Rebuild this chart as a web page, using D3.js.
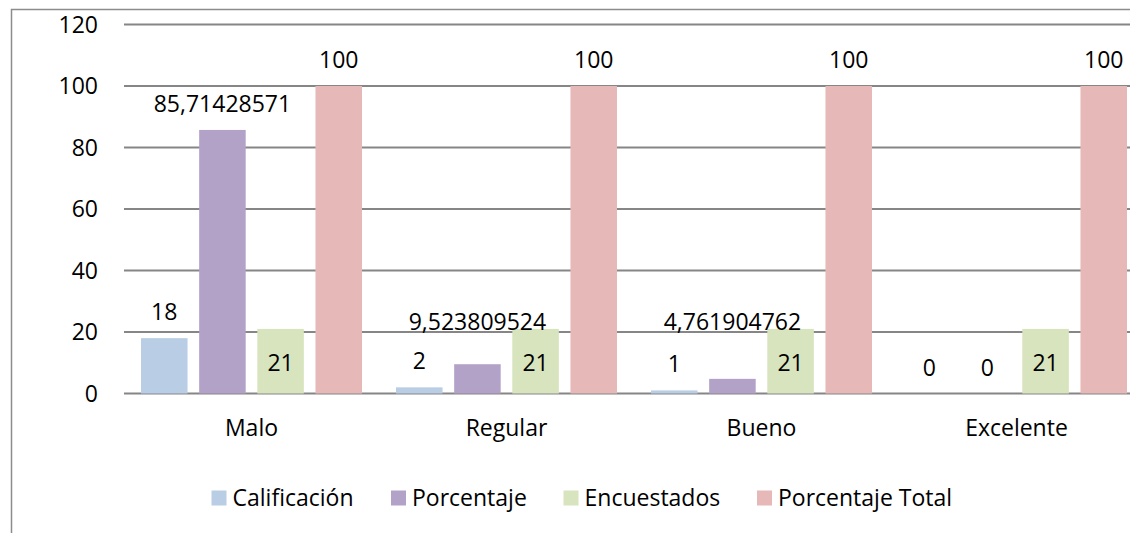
<!DOCTYPE html>
<html>
<head>
<meta charset="utf-8">
<script src="https://cdn.jsdelivr.net/npm/d3@7"></script>
<style>
  body { margin: 0; background: #fff; }
  svg { display: block; font-family: "Open Sans", Lato, sans-serif; }
</style>
</head>
<body>
<svg id="chart"></svg>
<script>
var categories = ["Malo", "Regular", "Bueno", "Excelente"];
var seriesNames = ["Calificación", "Porcentaje", "Encuestados", "Porcentaje Total"];
var calificacion = [18, 2, 1, 0];
var porcentaje = [85.71428571, 9.523809524, 4.761904762, 0];
var encuestados = [21, 21, 21, 21];
var porcentajeTotal = [100, 100, 100, 100];
var yTicks = [0, 20, 40, 60, 80, 100, 120];

var colors = ["#B9CDE5", "#B3A2C7", "#D7E4BD", "#E6B9B8"];
var screen = {width: 1130, height: 533};
var margins = {top: 24.5, left: 124};
var fontSize = 23;

var svg = d3.select("#chart")
    .attr("width", screen.width)
    .attr("height", screen.height);

// chart frame (cut off at right and bottom)
svg.append("path")
    .attr("d", "M11.5," + screen.height + "V9.5H" + screen.width)
    .attr("fill", "none")
    .attr("stroke", "#8c8c8c")
    .attr("stroke-width", 1.5);

var xScale = d3.scaleBand()
    .domain(categories)
    .range([margins.left, margins.left + 1020]);

var yScale = d3.scaleLinear()
    .domain([0, 120])
    .range([393.5, margins.top]);

var inner = d3.scaleBand()
    .domain(seriesNames)
    .range([17, xScale.bandwidth() - 17])
    .paddingInner(0.2);

// gridlines
svg.append("g")
    .selectAll("line")
    .data(yTicks)
    .enter()
    .append("line")
    .attr("x1", margins.left)
    .attr("x2", screen.width)
    .attr("y1", function(d) { return yScale(d); })
    .attr("y2", function(d) { return yScale(d); })
    .attr("stroke", "#868686")
    .attr("stroke-width", 2);

// y labels
svg.append("g")
    .selectAll("text")
    .data(yTicks)
    .enter()
    .append("text")
    .attr("x", margins.left - 26)
    .attr("y", function(d) { return yScale(d); })
    .attr("dy", "0.35em")
    .attr("text-anchor", "end")
    .style("font-size", fontSize + "px")
    .text(function(d) { return d; });

// category labels
svg.append("g")
    .selectAll("text")
    .data(categories)
    .enter()
    .append("text")
    .attr("x", function(d) { return xScale(d) + xScale.bandwidth() / 2; })
    .attr("y", 428)
    .attr("dy", "0.35em")
    .attr("text-anchor", "middle")
    .style("font-size", fontSize + "px")
    .text(function(d) { return d; });

var series = [calificacion, porcentaje, encuestados, porcentajeTotal];
var rows = [];
series.forEach(function(vals, s) {
    vals.forEach(function(v, i) {
        rows.push({s: s, cat: categories[i], i: i, v: v});
    });
});

var fmt = function(v) {
    return String(+v.toPrecision(10)).replace(".", ",");
};

svg.append("g")
    .selectAll("rect")
    .data(rows)
    .enter()
    .append("rect")
    .attr("x", function(d) { return xScale(d.cat) + inner(seriesNames[d.s]); })
    .attr("y", function(d) { return yScale(d.v); })
    .attr("width", inner.bandwidth())
    .attr("height", function(d) { return yScale(0) - yScale(d.v); })
    .attr("fill", function(d) { return colors[d.s]; });

// data labels
svg.append("g")
    .selectAll("text")
    .data(rows)
    .enter()
    .append("text")
    .attr("x", function(d) { return xScale(d.cat) + inner(seriesNames[d.s]) + inner.bandwidth() / 2; })
    .attr("y", function(d) {
        if (d.s == 2) return (yScale(d.v) + yScale(0)) / 2 + 1.5;
        var label = fmt(d.v);
        // long labels sit above the neighbouring bar
        if (label.length > 3 && encuestados[d.i] > d.v) return yScale(encuestados[d.i]) - 7;
        return yScale(d.v) - 26;
    })
    .attr("dy", "0.35em")
    .attr("text-anchor", "middle")
    .style("font-size", fontSize + "px")
    .text(function(d) { return fmt(d.v); });

// legend
var legendX = [211.5, 391, 563.5, 757];
var legend = svg.append("g")
    .selectAll("g")
    .data(seriesNames)
    .enter()
    .append("g")
    .attr("transform", function(d, i) { return "translate(" + legendX[i] + ",498)"; });

legend.append("rect")
    .attr("y", -7.5)
    .attr("width", 15)
    .attr("height", 15)
    .attr("fill", function(d, i) { return colors[i]; });

legend.append("text")
    .attr("x", 21)
    .attr("dy", "0.35em")
    .style("font-size", fontSize + "px")
    .text(function(d) { return d; });
</script>
</body>
</html>
